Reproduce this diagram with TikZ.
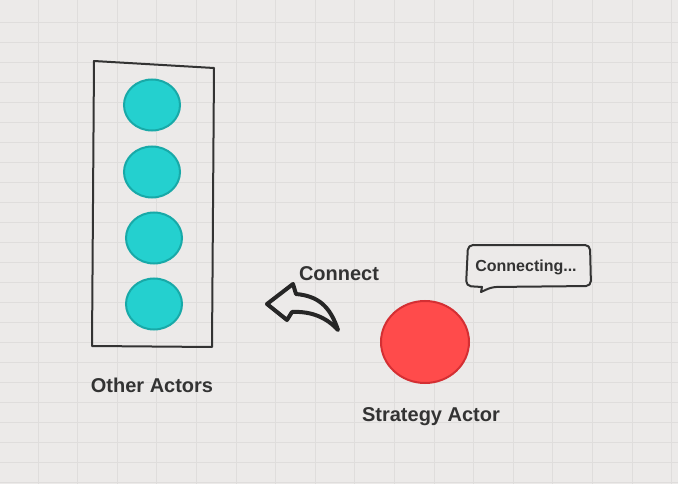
\documentclass[tikz,border=0pt]{standalone}
\usepackage{fontspec}
\setmainfont{Liberation Sans}
\usetikzlibrary{shapes.geometric}

\definecolor{paper}{HTML}{ECEAE9}
\definecolor{gridline}{HTML}{DFDDDC}
\definecolor{teal}{HTML}{24D0CF}
\definecolor{tealedge}{HTML}{18A9A8}
\definecolor{redfill}{HTML}{FF4B4B}
\definecolor{rededge}{HTML}{D42F33}
\definecolor{ink}{HTML}{333333}

\tikzset{
  actor/.style={ellipse, inner sep=0pt, line width=2},
  otheractor/.style={actor, draw=tealedge, fill=teal, minimum width=56, minimum height=51},
  label/.style={text=ink, font=\bfseries\fontsize{20}{24}\selectfont, inner sep=0pt},
  sketch/.style={draw=ink, line width=2.5, line join=round, line cap=round},
}

\begin{document}
\begin{tikzpicture}[x=1pt,y=1pt,yscale=-1]

%Background
\fill[paper] (0,0) rectangle (678,484);
\useasboundingbox (0,0) rectangle (678,484);
\foreach \gx in {38,77.6,...,678} \draw[gridline, line width=0.7] (\gx,0) -- (\gx,484);
\foreach \gy in {22,42,...,484} \draw[gridline, line width=0.7] (0,\gy) -- (678,\gy);

%Shape: Box of other actors
\draw[sketch, line width=2] (94,61) -- (214,68) -- (212,347) -- (92,346) -- cycle;
%Shape: Circles
\node[otheractor] (actor1) at (152,105) {};
\node[otheractor] (actor2) at (152,172) {};
\node[otheractor] (actor3) at (154,238) {};
\node[otheractor] (actor4) at (154,304) {};
\node[label] (others) at (152,385) {Other Actors};

%Shape: Strategy actor
\node[actor, draw=rededge, fill=redfill, minimum width=88, minimum height=82] (strategy) at (425,342) {};
\node[label] (strategylabel) at (431,417) {Strategy Actor};

%Curve Lines: Connect arrow
\draw[sketch, draw=black!85, line width=4, fill=paper] (338,330) .. controls (330,306) and (318,296) .. (296,294)
  -- (293,284) -- (267,304) -- (287,320) -- (292,312)
  .. controls (312,311) and (327,318) .. (338,330) -- cycle;
\node[label] (connect) at (339,274) {Connect};

%Shape: Speech bubble
\draw[sketch, line width=2, fill=paper, rounded corners=5]
  (468,245) -- (590,245) -- (591,286) -- (492,287) [sharp corners] -- (481,292) -- (482,287) [rounded corners=5] -- (466,286) -- cycle;
\node[text=ink, font=\bfseries\fontsize{16}{19}\selectfont, inner sep=0pt] (status) at (526,267) {Connecting...};

\end{tikzpicture}
\end{document}
